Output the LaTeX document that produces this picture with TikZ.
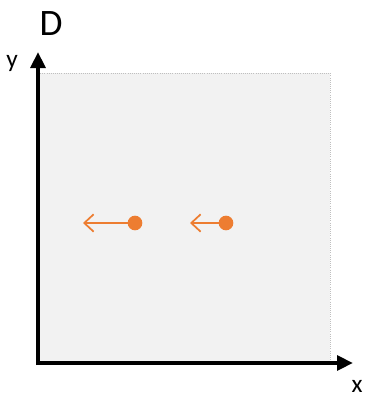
\documentclass[tikz,border=0pt]{standalone}
\usepackage{fontspec}
\setmainfont{Carlito}
\usetikzlibrary{arrows.meta}
\definecolor{myorange}{HTML}{ED7D31}
\definecolor{mygray}{HTML}{F2F2F2}
\definecolor{bordergray}{HTML}{BFBFBF}
\tikzset{
  axis/.style={line width=3pt,-{Triangle[length=12pt,width=11pt]}},
  pt/.style={circle,fill=myorange,inner sep=0pt,minimum size=11pt},
  vel/.style={myorange,line width=1.3pt,-{Straight Barb[length=7pt,width=13pt]}},
  lbl/.style={inner sep=0pt,font=\fontsize{19}{22}\selectfont}
}
\begin{document}
\begin{tikzpicture}[x=0.75pt,y=-0.75pt]
\useasboundingbox (0,0) rectangle (367,400);
\fill[mygray] (38,73) rectangle (330,362);
\draw[bordergray,densely dotted,line width=0.6pt] (38,73) -- (330,73) -- (330,362);
\coordinate (o) at (38,363);
\coordinate (ytip) at (38,52);
\coordinate (xtip) at (353,363);
\draw[axis] (38,365) -- (ytip);
\draw[axis] (36,363) -- (xtip);
\node[lbl,font=\fontsize{28}{32}\selectfont] (D) at (51,24) {D};
\node[lbl] (ylab) at (12,63) {y};
\node[lbl] (xlab) at (357,386) {x};
\node[pt] (p1) at (135,223) {};
\node[pt] (p2) at (226,223) {};
\coordinate (a1) at (83,223);
\coordinate (a2) at (190,223);
\draw[vel] (p1.center) -- (a1);
\draw[vel] (p2.center) -- (a2);
\end{tikzpicture}
\end{document}
